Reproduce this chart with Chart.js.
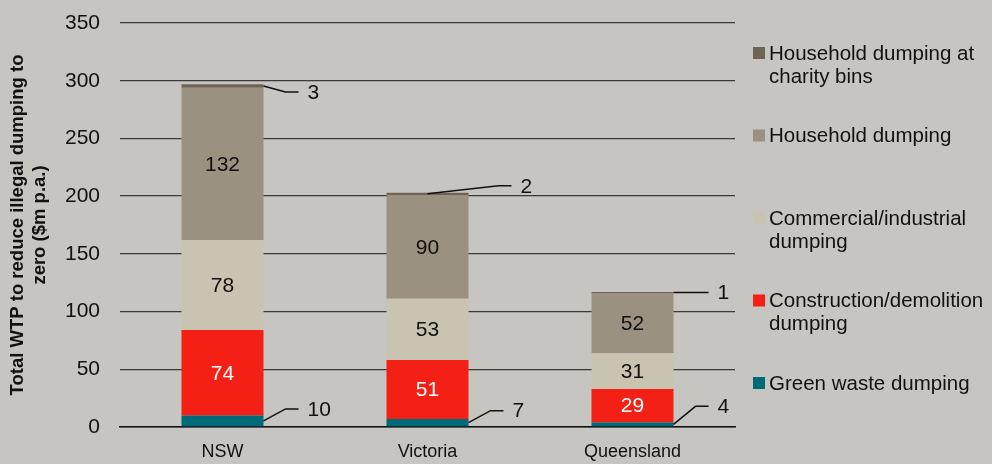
<!DOCTYPE html>
<html>
<head>
<meta charset="utf-8">
<script src="https://cdn.jsdelivr.net/npm/chart.js@4"></script>
<style>
  html, body { margin: 0; padding: 0; }
  body { width: 992px; height: 464px; background: #c6c5c2; overflow: hidden; }
  #wrap { position: relative; width: 992px; height: 464px; }
</style>
</head>
<body>
<div id="wrap"><canvas id="chart" width="992" height="464"></canvas></div>
<script>
const states = ['NSW', 'Victoria', 'Queensland'];

const greenWaste = [10, 7, 4];
const construction = [74, 51, 29];
const commercial = [78, 53, 31];
const household = [132, 90, 52];
const charityBins = [3, 2, 1];

const yTicks = [0, 50, 100, 150, 200, 250, 300, 350];

const seriesNames = [
    ['Green waste dumping'],
    ['Construction/demolition', 'dumping'],
    ['Commercial/industrial', 'dumping'],
    ['Household dumping'],
    ['Household dumping at', 'charity bins']
];
const seriesColors = ['#006b78', '#f42015', '#c9c3b1', '#9b9180', '#6d6453'];

const FONT = '"Liberation Sans", Arial, sans-serif';

// small segments are labelled outside with a leader line
// key: datasetIndex-index -> label vertical offset from segment middle
const leaders = {
    '0-0': { dy: -12 },
    '4-0': { dy: 6 },
    '0-1': { dy: -12 },
    '4-1': { dy: -8, fromCenter: true },
    '0-2': { dy: -18 },
    '4-2': { dy: 0 }
};

const segmentLabels = {
    id: 'segmentLabels',
    afterDatasetsDraw(chart) {
        const ctx = chart.ctx;
        ctx.save();
        ctx.font = '21px ' + FONT;
        chart.data.datasets.forEach((ds, di) => {
            chart.getDatasetMeta(di).data.forEach((bar, i) => {
                const v = ds.data[i];
                const top = Math.min(bar.y, bar.base);
                const bottom = Math.max(bar.y, bar.base);
                const midY = (top + bottom) / 2;
                const lead = leaders[di + '-' + i];
                if (lead) {
                    const x0 = lead.fromCenter ? bar.x : bar.x + bar.width / 2;
                    const y1 = midY + lead.dy;
                    const x1 = bar.x + bar.width / 2 + (lead.fromCenter ? 30 : 22);
                    const x2 = x1 + 13;
                    ctx.strokeStyle = '#111';
                    ctx.lineWidth = 1.5;
                    ctx.beginPath();
                    ctx.moveTo(x0, midY);
                    ctx.lineTo(x1, y1);
                    ctx.lineTo(x2, y1);
                    ctx.stroke();
                    ctx.fillStyle = '#111';
                    ctx.textAlign = 'left';
                    ctx.textBaseline = 'middle';
                    ctx.fillText(v, x2 + 9, y1 + 1);
                } else {
                    ctx.fillStyle = di === 1 ? '#ffffff' : '#111';
                    ctx.textAlign = 'center';
                    ctx.textBaseline = 'middle';
                    ctx.fillText(v, bar.x, midY + 1);
                }
            });
        });
        ctx.restore();
    }
};

const sideLegend = {
    id: 'sideLegend',
    afterDraw(chart) {
        const ctx = chart.ctx;
        const x = 753;
        const firstY = 53;
        const step = 82.5;
        ctx.save();
        ctx.font = '20.5px ' + FONT;
        ctx.textAlign = 'left';
        ctx.textBaseline = 'middle';
        // legend lists the top series first
        for (let k = 0; k < seriesNames.length; k++) {
            const di = seriesNames.length - 1 - k;
            const y = firstY + k * step;
            ctx.fillStyle = seriesColors[di];
            ctx.fillRect(x, y - 6, 12, 12);
            ctx.fillStyle = '#111';
            seriesNames[di].forEach((line, li) => {
                ctx.fillText(line, x + 16, y + 1 + li * 23);
            });
        }
        ctx.restore();
    }
};

const datasets = [greenWaste, construction, commercial, household, charityBins].map((vals, di) => ({
    label: seriesNames[di].join(' '),
    data: vals,
    backgroundColor: seriesColors[di],
    borderWidth: 0,
    categoryPercentage: 1,
    barPercentage: 0.4
}));

new Chart(document.getElementById('chart'), {
    type: 'bar',
    data: { labels: states, datasets },
    options: {
        responsive: false,
        animation: false,
        layout: { padding: { top: 23, right: 257, left: 0, bottom: 0 } },
        plugins: {
            legend: { display: false },
            tooltip: { enabled: false }
        },
        scales: {
            x: {
                stacked: true,
                grid: { display: false },
                border: { color: '#111', width: 1.5 },
                ticks: { color: '#111', font: { family: FONT, size: 18 }, padding: 6 },
                afterFit: (s) => { s.height = 37; }
            },
            y: {
                stacked: true,
                min: 0,
                max: 350,
                afterBuildTicks: (s) => { s.ticks = yTicks.map(v => ({ value: v })); },
                grid: { color: '#3a3a3a', lineWidth: 1.3, drawTicks: false },
                border: { display: false },
                ticks: { color: '#111', font: { family: FONT, size: 21 }, padding: 20 },
                title: {
                    display: true,
                    text: ['Total WTP to reduce illegal dumping to', 'zero ($m p.a.)'],
                    color: '#111',
                    font: { family: FONT, size: 18.5, weight: 'bold' },
                    padding: { top: 7, bottom: 4 }
                },
                afterFit: (s) => { s.width = 120; s.paddingTop = 0; s.paddingBottom = 0; }
            }
        }
    },
    plugins: [segmentLabels, sideLegend]
});
</script>
</body>
</html>
